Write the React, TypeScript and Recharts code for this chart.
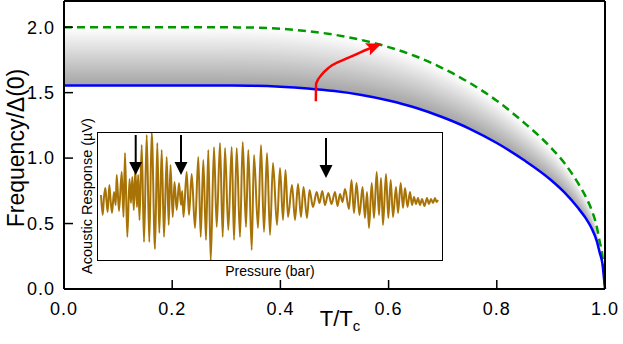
import React from 'react';
import { ComposedChart, LineChart, Line, Area, XAxis, YAxis, ReferenceDot } from 'recharts';

// main panel: reduced temperature and the two frequency edges (in units of the gap at T=0)
const tempRatio = [0, 0.1, 0.2, 0.25, 0.3, 0.35, 0.4, 0.45, 0.5, 0.55, 0.6, 0.65, 0.7, 0.75, 0.8, 0.85, 0.9, 0.925, 0.95, 0.965, 0.975, 0.985, 0.99, 0.995, 1.0];
const lowerEdge = [1.555, 1.555, 1.555, 1.555, 1.554, 1.552, 1.545, 1.532, 1.512, 1.482, 1.44, 1.385, 1.312, 1.224, 1.115, 0.985, 0.833, 0.738, 0.62, 0.537, 0.466, 0.364, 0.281, 0.2, 0];
const upperEdge = [2.0, 2.0, 2.0, 2.0, 1.999, 1.997, 1.988, 1.97, 1.942, 1.902, 1.848, 1.778, 1.686, 1.574, 1.438, 1.272, 1.08, 0.962, 0.81, 0.7, 0.607, 0.472, 0.365, 0.26, 0];

// red arrow path
const arrowT = [0.4655, 0.466, 0.4754, 0.4908, 0.5215, 0.549, 0.583];
const arrowF = [1.434, 1.569, 1.632, 1.695, 1.759, 1.81, 1.868];

const xTicks = [0, 0.2, 0.4, 0.6, 0.8, 1.0];
const yTicks = [0, 0.5, 1.0, 1.5, 2.0];

// inset: acoustic response vs pressure (arbitrary units)
const insetPressure = [
  0.40, 0.57, 0.70, 0.83, 0.95, 1.07, 1.23, 1.35, 1.50, 1.70,
  1.87, 1.97, 2.20, 2.47, 2.65, 2.80, 3.03, 3.25, 3.40, 3.53,
  3.68, 3.83, 4.00, 4.12, 4.25, 4.47, 4.70, 4.97, 5.23, 5.47,
  5.80, 6.03, 6.23, 6.47, 6.70, 6.97, 7.17, 7.35, 7.57, 7.75,
  7.97, 8.20, 8.40, 8.52, 8.65, 8.97, 9.20, 9.47, 9.80, 10.13,
  10.37, 10.63, 10.90, 11.13, 11.37, 11.70, 11.97, 12.30, 12.57, 12.80,
  13.13, 13.47, 13.70, 13.97, 14.30, 14.57, 14.90, 15.13, 15.47, 15.70,
  16.10, 16.40, 16.70, 17.00, 17.30, 17.60, 18.00, 18.30, 18.60, 18.85,
  19.10, 19.50, 19.80, 20.10, 20.40, 20.65, 21.00, 21.25, 21.60, 21.97,
  22.25, 22.53, 22.80, 23.13, 23.45, 23.80, 24.05, 24.30, 24.55, 24.80,
  25.20, 25.45, 25.70, 25.95, 26.25, 26.55, 26.80, 27.00, 27.20, 27.47,
  27.70, 27.97, 28.20, 28.40, 28.60, 28.90, 29.13, 29.37, 29.60, 29.90,
  30.10, 30.37, 30.60, 30.80, 31.05, 31.30, 31.50, 31.70, 31.90, 32.10,
  32.30, 32.50, 32.75, 33.00, 33.20, 33.40, 33.60, 33.80, 33.95, 34.10,
];
const insetSignal = [
  2, -18, 0, 9, -4, -15, 12, -2, -16, 5,
  -8, 22, -14, 25, -20, 44, -40, 18, -6, 20,
  -13, 28, -10, 22, -23, 52, -45, 62, -45, 65,
  -52, 54, -36, 47, -40, 40, -28, 32, -20, 15,
  -13, 14, -8, 6, -20, 25, -18, 23, -31, 40,
  -40, 37, -43, 47, -64, 50, -30, 54, -40, 49,
  -33, 50, -43, 49, -40, 55, -30, 47, -53, 42,
  -31, 52, -35, 44, -38, 34, -28, 29, -23, 27,
  -20, 12, -23, 13, -20, 10, -21, 7, -10, 5,
  -6, 6, -8, 4, -7, 5, -9, 3, -5, 8,
  -12, 17, -16, 14, -18, 10, -21, 5, -31, 14,
  -21, 25, -18, 19, -28, 23, -21, 17, -20, 10,
  -16, 14, -11, 9, -10, 5, -8, 0, -7, -1,
  -8, -2, -9, -1, -7, -2, -6, -1, -5, -3,
];
const markPressures = [3.87, 8.4, 22.9];
const markTips = [22, 22, 19];

const FONT = '"Liberation Sans", Arial, Helvetica, sans-serif';
const BANDS = 48;

const mainData = tempRatio.map((t, i) => ({ t, lower: lowerEdge[i], upper: upperEdge[i] }));
const arrowData = arrowT.map((t, i) => ({ t, arrow: arrowF[i] }));
const insetData = insetPressure.map((p, i) => ({ p, v: insetSignal[i] }));

// grey shading, darkest along the lower edge, fading to white at the upper edge
const bandShade = (k: number) => {
  const s = Math.round(166 + (255 - 166) * (k / (BANDS - 1)));
  return `rgb(${s},${s},${s})`;
};

const tickStyle = { fill: '#000', fontSize: 18, fontFamily: FONT, letterSpacing: 1 };
const fmt = (v: number) => v.toFixed(1);

const DownArrow = (props: any) => {
  const { cx, cy } = props;
  return (
    <g>
      <line x1={cx} y1={cy - 40} x2={cx} y2={cy - 12} stroke="#000" strokeWidth={2} />
      <path d={`M${cx - 6.5},${cy - 13} L${cx + 6.5},${cy - 13} L${cx},${cy} Z`} fill="#000" />
    </g>
  );
};

export default function App() {
  return (
    <div style={{ position: 'absolute', left: 0, top: 0, width: 623, height: 344, background: '#fff', fontFamily: FONT }}>
      <ComposedChart width={623} height={344} data={mainData} margin={{ top: 0, right: 17, bottom: 25, left: 0 }}>
        <defs>
          <marker id="redHead" viewBox="0 0 15 13" refX="13" refY="6.5" markerWidth="15" markerHeight="13" markerUnits="userSpaceOnUse" orient="auto">
            <path d="M0,0 L15,6.5 L0,13 L3,6.5 Z" fill="#ff0000" />
          </marker>
        </defs>
        <XAxis
          dataKey="t"
          type="number"
          domain={[0, 1]}
          ticks={xTicks}
          tickFormatter={fmt}
          height={30}
          tickSize={-9}
          tickMargin={22}
          tick={tickStyle}
          axisLine={{ stroke: '#000', strokeWidth: 2 }}
          tickLine={{ stroke: '#000', strokeWidth: 1.5 }}
        />
        <XAxis
          xAxisId="top"
          orientation="top"
          type="number"
          domain={[0, 1]}
          ticks={xTicks}
          height={1}
          tickSize={-9}
          tick={false}
          axisLine={{ stroke: '#000', strokeWidth: 2 }}
          tickLine={{ stroke: '#000', strokeWidth: 1.5 }}
        />
        <YAxis
          type="number"
          domain={[0, 2.2]}
          ticks={yTicks}
          tickFormatter={fmt}
          width={64}
          tickSize={-9}
          tickMargin={18}
          tick={tickStyle}
          axisLine={{ stroke: '#000', strokeWidth: 2 }}
          tickLine={{ stroke: '#000', strokeWidth: 1.5 }}
        />
        <YAxis
          yAxisId="right"
          orientation="right"
          type="number"
          domain={[0, 2.2]}
          ticks={yTicks}
          width={1}
          tickSize={-9}
          tick={false}
          axisLine={{ stroke: '#000', strokeWidth: 2 }}
          tickLine={{ stroke: '#000', strokeWidth: 1.5 }}
        />
        {Array.from({ length: BANDS }, (_, k) => (
          <Area
            key={`band${k}`}
            type="monotone"
            dataKey={(d: any) => [d.lower + ((d.upper - d.lower) * k) / BANDS, d.upper]}
            stroke="none"
            fill={bandShade(k)}
            fillOpacity={1}
            isAnimationActive={false}
            activeDot={false}
          />
        ))}
        <Line type="monotone" dataKey="upper" stroke="#009a00" strokeWidth={2.5} strokeDasharray="8 5" dot={false} isAnimationActive={false} />
        <Line type="monotone" dataKey="lower" stroke="#0000ff" strokeWidth={2.5} dot={false} isAnimationActive={false} />
        <Line
          data={arrowData}
          type="monotone"
          dataKey="arrow"
          stroke="#ff0000"
          strokeWidth={2.5}
          dot={false}
          markerEnd="url(#redHead)"
          isAnimationActive={false}
        />
      </ComposedChart>

      <div style={{ position: 'absolute', left: 16 - 110, top: 148 - 13, width: 220, height: 26, lineHeight: '26px', textAlign: 'center', fontSize: 23, transform: 'rotate(-90deg)', color: '#000' }}>
        Frequency/Δ(0)
      </div>
      <div style={{ position: 'absolute', left: 285, top: 306, width: 110, textAlign: 'center', fontSize: 22, lineHeight: '26px', color: '#000' }}>
        T/T<sub style={{ fontSize: 15, verticalAlign: '-5px' }}>c</sub>
      </div>

      <div style={{ position: 'absolute', left: 97, top: 132, width: 346, height: 129, background: '#fff' }}>
        <LineChart width={346} height={129} data={insetData} margin={{ top: 0, right: 0, bottom: 0, left: 0 }}>
          <XAxis dataKey="p" type="number" domain={[0, 34.6]} hide />
          <YAxis type="number" domain={[-64, 65]} hide allowDataOverflow />
          <Line type="monotone" dataKey="v" stroke="#a87306" strokeWidth={2} dot={false} isAnimationActive={false} />
          {markPressures.map((p, i) => (
            <ReferenceDot key={`m${i}`} x={p} y={markTips[i]} r={0} shape={DownArrow} />
          ))}
        </LineChart>
        <div style={{ position: 'absolute', left: 0, top: 0, width: 346, height: 129, boxSizing: 'border-box', border: '1.5px solid #000', pointerEvents: 'none' }} />
      </div>
      <div style={{ position: 'absolute', left: 87 - 90, top: 196 - 9, width: 180, height: 18, lineHeight: '18px', textAlign: 'center', fontSize: 14.5, transform: 'rotate(-90deg)', color: '#000', whiteSpace: 'nowrap' }}>
        Acoustic Response (µV)
      </div>
      <div style={{ position: 'absolute', left: 200, top: 263, width: 140, textAlign: 'center', fontSize: 14, lineHeight: '17px', color: '#000' }}>
        Pressure (bar)
      </div>
    </div>
  );
}
